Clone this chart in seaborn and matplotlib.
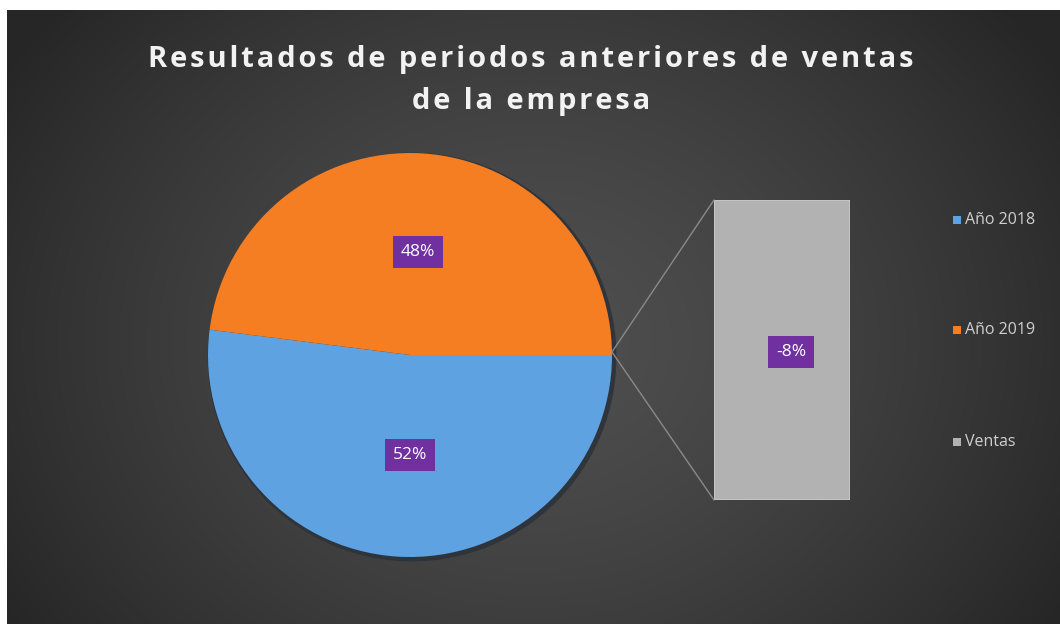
import numpy as np
import pandas as pd
import matplotlib
matplotlib.use("Agg")
import matplotlib.pyplot as plt
import seaborn as sns
from matplotlib.patches import Rectangle, Circle
from matplotlib.lines import Line2D

# ---- data ----
pie_labels = ["Año 2018", "Año 2019"]
pie_values = [52, 48]
bar_labels = ["Ventas"]
bar_values = [-8]
title_lines = ["Resultados de periodos anteriores de ventas", "de la empresa"]

pie_colors = ["#5EA2E2", "#F57D22"]
bar_color = "#B2B2B2"
label_box = "#7030A0"

sns.set_theme(style="dark")
plt.rcParams['font.family'] = ['Open Sans', 'DejaVu Sans']

W, H = 1060, 624
fig = plt.figure(figsize=(W / 100, H / 100), dpi=100, facecolor="white")

def fx(px):
    return px / W

def fy(py):
    return 1 - py / H

# background radial gradient
bg = fig.add_axes([fx(7), 0, 1 - fx(7), fy(10)])
yy, xx = np.mgrid[0:614, 0:1053]
cx, cy = 525, 330
d = np.sqrt(((xx - cx) / 620.0) ** 2 + ((yy - cy) / 520.0) ** 2)
v = 0.31 - 0.16 * np.clip(d, 0, 1) ** 1.4
img = np.dstack([v, v, v])
bg.imshow(img, aspect="auto", extent=[0, 1, 0, 1], interpolation="bilinear")
bg.set_axis_off()
bg.set_zorder(0)

# pie
pcx, pcy, r = 410, 355, 202
axp = fig.add_axes([fx(pcx - r - 6), fy(pcy + r + 6), 2 * (r + 6) / W, 2 * (r + 6) / H])
axp.set_zorder(2)
sc = (r + 6) / r
axp.add_patch(Circle((0.01, -0.01), 1.012, facecolor="#2c333a", edgecolor="none", alpha=0.9))
axp.pie(pie_values, colors=pie_colors, startangle=0, counterclock=False,
        radius=1, wedgeprops=dict(linewidth=0))
axp.set_xlim(-sc, sc)
axp.set_ylim(-sc, sc)
axp.set_aspect("auto")
axp.set_axis_off()

# bar
bx0, bx1, by0, by1 = 714, 850, 200, 500
axb = fig.add_axes([fx(bx0), fy(by1), (bx1 - bx0) / W, (by1 - by0) / H])
axb.set_zorder(2)
df = pd.DataFrame({"cat": bar_labels, "val": [abs(x) for x in bar_values]})
sns.barplot(data=df, x="cat", y="val", ax=axb, color=bar_color, width=1.0,
            saturation=1, edgecolor="#c8c8c8", linewidth=1.2)
axb.set_xlim(-0.5, 0.5)
axb.set_ylim(0, abs(bar_values[0]))
axb.set_axis_off()

# connector lines
for ty in (by0, by1):
    fig.add_artist(Line2D([fx(612), fx(bx0)], [fy(352), fy(ty)],
                          color="#8a8a8a", linewidth=1.0, zorder=3))

# data labels
def plabel(x, y, s):
    fig.text(fx(x), fy(y), s, ha="center", va="center", color="white",
             fontsize=12.5, zorder=5,
             bbox=dict(boxstyle="square,pad=0.45", facecolor=label_box,
                       edgecolor="none"))

plabel(418, 252, f"{pie_values[1]}%")
plabel(410, 455, f"{pie_values[0]}%")
plabel(791, 352, f"{bar_values[0]}%")

# legend
leg_y = [220, 330, 442]
leg_colors = [pie_colors[0], pie_colors[1], bar_color]
for lbl, c, y in zip(pie_labels + bar_labels, leg_colors, leg_y):
    fig.add_artist(Rectangle((fx(953), fy(y + 4)), 8 / W, 8 / H,
                             transform=fig.transFigure, facecolor=c,
                             edgecolor="none", zorder=5))
    fig.text(fx(965), fy(y), lbl, ha="left", va="center", color="#d0d0d0",
             fontsize=11.5, zorder=5)

# title (letter-spaced with hair spaces)
def spaced(s):
    return "\u200a".join(s)

for line, y in zip(title_lines, [60, 101]):
    fig.text(fx(531), fy(y), spaced(line), ha="center", va="center",
             color="#f2f2f2", fontsize=21, fontweight="bold", zorder=5)

fig.savefig("out.png", dpi=100, facecolor=fig.get_facecolor())
